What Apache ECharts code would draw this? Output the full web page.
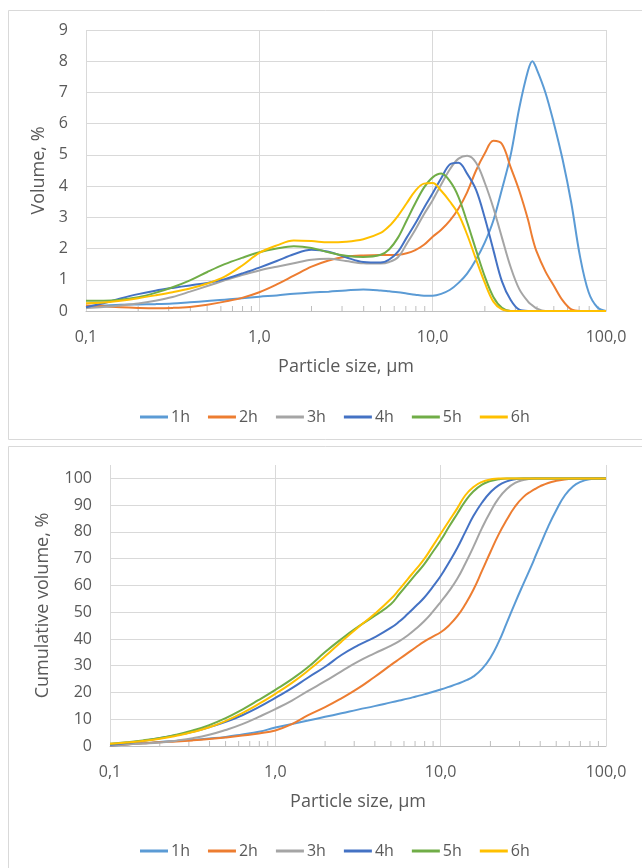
<!DOCTYPE html>
<html>
<head>
<meta charset="utf-8">
<script src="https://cdn.jsdelivr.net/npm/echarts@6/dist/echarts.min.js"></script>
<style>
  html, body { margin: 0; padding: 0; background: #fff; }
  #chart { width: 642px; height: 868px; }
</style>
</head>
<body>
<div id="chart"></div>
<script>
// Particle size classes, µm
const sizes = [0.1, 0.126, 0.158, 0.2, 0.251, 0.316, 0.398, 0.501, 0.631, 0.794,
  1, 1.26, 1.58, 2, 2.51, 3.16, 3.98, 5.01, 5.62, 6.31, 7.08, 7.94, 8.91,
  10, 11.2, 12.6, 14.1, 15.8, 17.8, 20, 22.4, 25.1, 28.2, 31.6, 35.5, 37.6, 39.8,
  44.7, 50.1, 56.2, 63.1, 70.8, 79.4, 89.1, 100];

const seriesNames = ['1h', '2h', '3h', '4h', '5h', '6h'];

// Volume density, %
const vol1h = [0.16, 0.18, 0.2, 0.21, 0.22, 0.24, 0.28, 0.32, 0.36, 0.41,
  0.46, 0.5, 0.55, 0.59, 0.62, 0.66, 0.69, 0.66, 0.63, 0.6, 0.56, 0.52, 0.49,
  0.49, 0.55, 0.68, 0.9, 1.2, 1.65, 2.2, 2.9, 3.9, 5.0, 6.5, 7.7, 8.0, 7.75,
  7.0, 6.0, 4.85, 3.45, 1.75, 0.6, 0.12, 0];
const vol2h = [0.18, 0.15, 0.12, 0.1, 0.09, 0.1, 0.13, 0.2, 0.3, 0.42,
  0.6, 0.85, 1.13, 1.42, 1.62, 1.74, 1.78, 1.79, 1.79, 1.8, 1.85, 1.95, 2.12,
  2.38, 2.6, 2.9, 3.28, 3.8, 4.5, 5.05, 5.45, 5.35, 4.6, 3.85, 2.92, 2.35, 1.9,
  1.27, 0.8, 0.34, 0.05, 0, 0, 0, 0];
const vol3h = [0.1, 0.13, 0.18, 0.24, 0.33, 0.45, 0.62, 0.8, 0.98, 1.15,
  1.3, 1.42, 1.53, 1.64, 1.67, 1.6, 1.53, 1.52, 1.57, 1.72, 2.15, 2.6, 3.1,
  3.55, 4.05, 4.55, 4.88, 4.97, 4.75, 4.1, 3.3, 2.35, 1.4, 0.7, 0.3, 0.18, 0.08,
  0, 0, 0, 0, 0, 0, 0, 0];
const vol4h = [0.12, 0.25, 0.4, 0.54, 0.65, 0.74, 0.82, 0.9, 1.02, 1.2,
  1.39, 1.6, 1.82, 1.96, 1.9, 1.72, 1.57, 1.55, 1.65, 1.9, 2.35, 2.8, 3.3,
  3.77, 4.25, 4.7, 4.75, 4.4, 3.88, 2.98, 1.95, 0.95, 0.35, 0.04, 0, 0, 0,
  0, 0, 0, 0, 0, 0, 0, 0];
const vol5h = [0.33, 0.33, 0.36, 0.44, 0.58, 0.76, 0.98, 1.25, 1.5, 1.7,
  1.88, 2.0, 2.07, 2.02, 1.88, 1.77, 1.73, 1.8, 1.98, 2.35, 2.9, 3.45, 3.95,
  4.28, 4.4, 4.15, 3.65, 2.85, 1.95, 1.1, 0.45, 0.1, 0, 0, 0, 0, 0,
  0, 0, 0, 0, 0, 0, 0, 0];
const vol6h = [0.25, 0.27, 0.33, 0.41, 0.5, 0.6, 0.72, 0.88, 1.1, 1.45,
  1.86, 2.1, 2.26, 2.24, 2.2, 2.22, 2.3, 2.5, 2.72, 3.05, 3.45, 3.85, 4.08,
  4.1, 3.85, 3.5, 3.1, 2.45, 1.65, 0.9, 0.3, 0.05, 0, 0, 0, 0, 0,
  0, 0, 0, 0, 0, 0, 0, 0];

// Cumulative volume, %
const cum1h = [0.1, 0.6, 1.0, 1.5, 1.9, 2.3, 2.8, 3.4, 4.3, 5.3,
  6.9, 8.2, 9.5, 10.9, 12.2, 13.6, 14.9, 16.3, 17.0, 17.7, 18.5, 19.3, 20.2,
  21.1, 22.1, 23.2, 24.4, 26.0, 28.8, 33.0, 38.8, 46, 53.5, 60.5, 67.5, 71.2, 74.8,
  82, 88.2, 93.5, 97, 98.8, 99.7, 100, 100];
const cum2h = [0.2, 0.6, 1.0, 1.4, 1.7, 2.1, 2.6, 3.2, 3.9, 4.7,
  5.8, 8.2, 11.5, 14.5, 17.8, 21.5, 25.8, 30.3, 32.5, 34.7, 36.9, 39.0, 40.8,
  42.5, 45, 48.5, 53, 58.5, 65.5, 72.5, 79, 84.5, 89.5, 93, 95.3, 96.2, 97.0,
  98.3, 99.1, 99.6, 99.9, 100, 100, 100, 100];
const cum3h = [0.3, 0.6, 0.9, 1.3, 2.0, 2.9, 4.2, 6.0, 8.2, 10.9,
  13.8, 17.0, 20.6, 24.2, 27.9, 31.5, 34.6, 37.5, 39.2, 41.3, 43.8, 46.6, 50.0,
  53.8, 57.8, 62.5, 68.2, 74.5, 81.5, 87.5, 92.5, 96.0, 98.3, 99.4, 99.9, 100, 100,
  100, 100, 100, 100, 100, 100, 100, 100];
const cum4h = [0.5, 1.1, 1.9, 2.9, 4.0, 5.3, 7.0, 9.0, 11.5, 14.5,
  18.0, 21.6, 25.6, 29.6, 34.0, 37.6, 40.6, 44.2, 46.5, 49.3, 52.3, 55.4, 59.3,
  63.5, 68.5, 74, 80, 86, 91, 94.8, 97.4, 98.9, 99.7, 100, 100, 100, 100,
  100, 100, 100, 100, 100, 100, 100, 100];
const cum5h = [0.8, 1.4, 2.1, 3.0, 4.2, 5.8, 7.8, 10.4, 13.6, 17.2,
  21.0, 25.0, 29.5, 35.1, 40.0, 44.5, 48.6, 53.1, 56.8, 60.5, 64.2, 67.9, 72.3,
  76.8, 81.8, 86.8, 91.5, 95.2, 97.7, 99.0, 99.7, 100, 100, 100, 100, 100, 100,
  100, 100, 100, 100, 100, 100, 100, 100];
const cum6h = [0.8, 1.3, 1.9, 2.7, 3.8, 5.2, 7.0, 9.4, 12.3, 15.7,
  19.5, 23.6, 28.2, 33.5, 39.0, 44.3, 49.3, 55.0, 58.5, 62.3, 66.0, 69.8, 74.5,
  79.3, 84.0, 88.8, 93.7, 96.8, 98.7, 99.6, 100, 100, 100, 100, 100, 100, 100,
  100, 100, 100, 100, 100, 100, 100, 100];

// Minor tick positions on the logarithmic size axis
const minorTickSizes = [0.2, 0.3, 0.4, 0.5, 0.6, 0.7, 0.8, 0.9,
  2, 3, 4, 5, 6, 7, 8, 9, 20, 30, 40, 50, 60, 70, 80, 90];

const volumeSets = [vol1h, vol2h, vol3h, vol4h, vol5h, vol6h];
const cumulativeSets = [cum1h, cum2h, cum3h, cum4h, cum5h, cum6h];
const colors = ['#5B9BD5', '#ED7D31', '#A5A5A5', '#4472C4', '#70AD47', '#FFC000'];

const FONT = 'Open Sans';
const TEXT = '#595959';
const GRID_LINE = '#D9D9D9';
const AXIS_LINE = '#BFBFBF';

function sizeLabel(v) {
  return Number(v).toFixed(1).replace('.', ',');
}

function xAxisFor(gridIndex) {
  return {
    type: 'log', logBase: 10, gridIndex, min: 0.1, max: 100,
    name: 'Particle size, µm', nameLocation: 'middle', nameGap: 56,
    nameTextStyle: { color: TEXT, fontFamily: FONT, fontSize: 18, verticalAlign: 'middle' },
    axisLine: { show: true, onZero: false, lineStyle: { color: AXIS_LINE, width: 1 } },
    axisTick: { show: false },
    axisLabel: { color: TEXT, fontFamily: FONT, fontSize: 16, margin: 18, formatter: sizeLabel },
    splitLine: { show: true, lineStyle: { color: GRID_LINE, width: 1 } }
  };
}

function lineSeries(name, values, color, axisIndex, smooth) {
  return {
    type: 'line', name, xAxisIndex: axisIndex, yAxisIndex: axisIndex,
    data: sizes.map((s, i) => [s, values[i]]),
    smooth, symbol: 'none', showSymbol: false,
    lineStyle: { color, width: 2 }, itemStyle: { color },
    emphasis: { disabled: true }, z: 3
  };
}

function minorTickSeries(axisIndex) {
  return {
    type: 'custom', xAxisIndex: axisIndex, yAxisIndex: axisIndex, silent: true, z: 2,
    data: minorTickSizes.map(s => [s, 0]),
    renderItem: function (params, api) {
      const p = api.coord([api.value(0), api.value(1)]);
      return {
        type: 'line',
        shape: { x1: p[0], y1: p[1], x2: p[0], y2: p[1] - 5 },
        style: { stroke: AXIS_LINE, lineWidth: 1 }
      };
    }
  };
}

function legendFor(top) {
  return {
    data: seriesNames, top, left: 135, orient: 'horizontal',
    itemWidth: 28, itemHeight: 3, itemGap: 18, icon: 'rect',
    textStyle: { color: TEXT, fontFamily: FONT, fontSize: 16, padding: [0, 0, 0, -2] },
    selectedMode: false
  };
}

const chart = echarts.init(document.getElementById('chart'), null, { renderer: 'canvas' });

const series = [];
seriesNames.forEach((n, i) => series.push(lineSeries(n, volumeSets[i], colors[i], 0, 0.35)));
seriesNames.forEach((n, i) => series.push(lineSeries(n, cumulativeSets[i], colors[i], 1, 0.5)));
series.push(minorTickSeries(0), minorTickSeries(1));

chart.setOption({
  animation: false,
  backgroundColor: '#fff',
  textStyle: { fontFamily: FONT },
  graphic: [
    { type: 'rect', shape: { x: 8.5, y: 10.5, width: 640, height: 429 },
      style: { fill: 'none', stroke: GRID_LINE, lineWidth: 1 }, silent: true },
    { type: 'rect', shape: { x: 8.5, y: 446.5, width: 640, height: 440 },
      style: { fill: 'none', stroke: GRID_LINE, lineWidth: 1 }, silent: true }
  ],
  grid: [
    { left: 86, right: 36, top: 30, height: 281 },
    { left: 110, right: 36, top: 465, height: 281 }
  ],
  legend: [legendFor(404), legendFor(838)],
  xAxis: [xAxisFor(0), xAxisFor(1)],
  yAxis: [
    {
      type: 'value', gridIndex: 0, min: 0, max: 9, interval: 1,
      name: 'Volume, %', nameLocation: 'middle', nameGap: 43, nameRotate: 90,
      nameTextStyle: { color: TEXT, fontFamily: FONT, fontSize: 18, verticalAlign: 'middle' },
      axisLine: { show: false }, axisTick: { show: false },
      axisLabel: { color: TEXT, fontFamily: FONT, fontSize: 16, margin: 18 },
      splitLine: { show: true, lineStyle: { color: GRID_LINE, width: 1 } }
    },
    {
      type: 'value', gridIndex: 1, min: 0, max: 105, interval: 10,
      name: 'Cumulative volume, %', nameLocation: 'middle', nameGap: 67, nameRotate: 90,
      nameTextStyle: { color: TEXT, fontFamily: FONT, fontSize: 18, verticalAlign: 'middle' },
      axisLine: { show: false }, axisTick: { show: false },
      axisLabel: { color: TEXT, fontFamily: FONT, fontSize: 16, margin: 18, showMaxLabel: false },
      splitLine: { show: true, showMaxLine: false, lineStyle: { color: GRID_LINE, width: 1 } }
    }
  ],
  series
});
</script>
</body>
</html>
